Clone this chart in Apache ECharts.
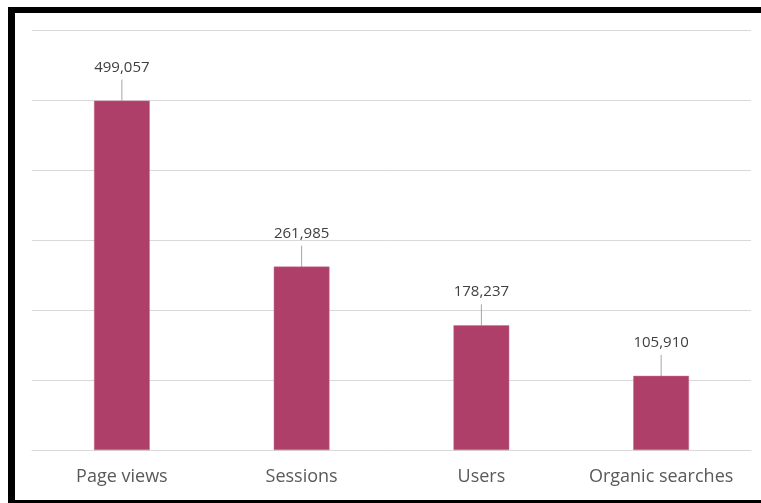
<!DOCTYPE html>
<html>
<head>
<meta charset="utf-8">
<script src="https://cdn.jsdelivr.net/npm/echarts@6/dist/echarts.min.js"></script>
<style>
  html, body { margin: 0; padding: 0; background: #fff; }
  #chart { position: absolute; left: 0; top: 0; width: 761px; height: 503px; }
  #frame { position: absolute; left: 8px; top: 7px; width: 753px; height: 487px;
           border-left: 7px solid #000; border-top: 6px solid #000; border-bottom: 3px solid #000;
           pointer-events: none; }
</style>
</head>
<body>
<div id="chart"></div>
<div id="frame"></div>
<script>
const categories = ['Page views', 'Sessions', 'Users', 'Organic searches'];
const values = [499057, 261985, 178237, 105910];

const chart = echarts.init(document.getElementById('chart'));
chart.setOption({
  animation: false,
  backgroundColor: '#fff',
  grid: { left: 32, right: 10, top: 30, bottom: 53 },
  xAxis: {
    type: 'category',
    data: categories,
    axisLine: { show: true, lineStyle: { color: '#d9d9d9', width: 1 } },
    axisTick: { show: false },
    axisLabel: { interval: 0, color: '#595959', fontSize: 18, fontFamily: 'Open Sans', margin: 18 }
  },
  yAxis: {
    type: 'value',
    min: 0, max: 600000, interval: 100000,
    axisLabel: { show: false },
    axisLine: { show: false },
    axisTick: { show: false },
    splitLine: { lineStyle: { color: '#d9d9d9', width: 1 } }
  },
  series: [{
    type: 'bar',
    data: values,
    barWidth: '31%',
    itemStyle: { color: '#ae3f68', borderColor: '#c46a8c', borderWidth: 0.5 },
    label: {
      show: true,
      position: 'top',
      distance: 5,
      color: '#404040',
      fontSize: 15,
      fontFamily: 'Open Sans',
      formatter: p => '{v|' + p.value.toLocaleString('en-US') + '}\n{g| }',
      rich: {
        v: { fontSize: 15, color: '#404040', fontFamily: 'Open Sans', lineHeight: 18 },
        g: { fontSize: 1, lineHeight: 3, height: 3 }
      }
    },
    labelLayout: { dy: -16 },
    labelLine: { show: true, lineStyle: { color: '#a6a6a6', width: 1 } }
  }]
});
</script>
</body>
</html>
